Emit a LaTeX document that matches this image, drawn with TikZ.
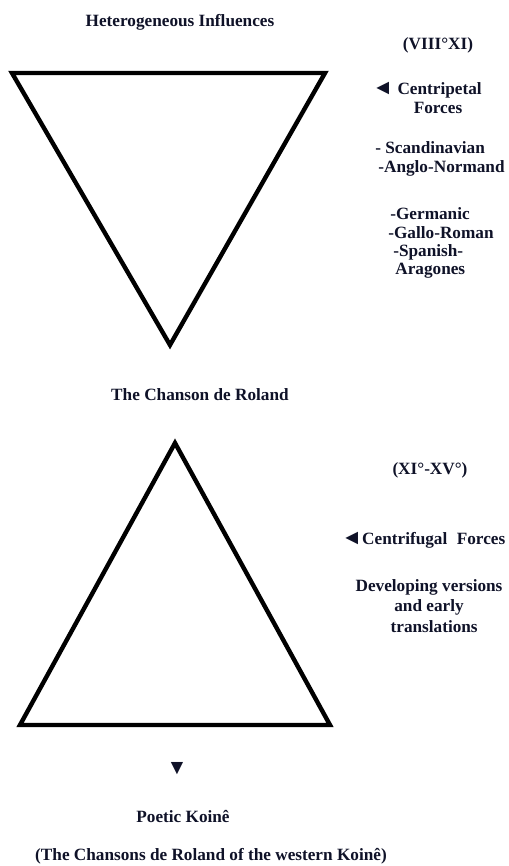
\documentclass[tikz,border=0pt]{standalone}
\usepackage{fontspec}
\setmainfont{Liberation Serif}
\usepackage{xcolor}
\usepackage{tikz}
\definecolor{inkblue}{RGB}{15,18,40}

\begin{document}
\begin{tikzpicture}[x=0.02cm, y=-0.02cm,
      font=\fontsize{9.8}{11.8}\selectfont\bfseries,
      txt/.style={text=inkblue, inner sep=0pt},
      lft/.style={txt, anchor=west},
      tri/.style={draw=black, line width=2.5pt, line join=miter}]
    \useasboundingbox (0,0) rectangle (508,866);
    \node[txt] (infl) at (180,22) {Heterogeneous Influences};
    \node[txt] (per1) at (438,45) {(VIII°XI)};
    \draw[tri] (12,73) -- (325,73) -- (170,345) -- cycle;
    \node[lft] (cpet) at (372,90) {{\large ◄} Centripetal};
    \node[txt] (forc) at (438,108) {Forces};
    \node[lft] (scan) at (375,148) {- Scandinavian};
    \node[lft] (angl) at (378,168) {-Anglo-Normand};
    \node[lft] (germ) at (390,214) {-Germanic};
    \node[lft] (gall) at (388,233) {-Gallo-Roman};
    \node[lft] (span) at (393,252) {-Spanish-};
    \node[lft] (arag) at (395,271) {Aragones};
    \node[txt] (chan) at (200,395) {The Chanson de Roland};
    \draw[tri] (175,443) -- (330,725) -- (20,725) -- cycle;
    \node[txt] (per2) at (430,470) {(XI°-XV°)};
    \node[lft] (cfug) at (341,540) {{\large ◄}Centrifugal\hspace{0.55em}Forces};
    \node[txt, align=center] (devl) at (429,606)
      {Developing versions\\and early\\\hspace{0.6em}translations};
    \node[txt] (down) at (177,769) {{\large ▼}};
    \node[txt] (koin) at (183,817) {Poetic Koinê};
    \node[txt] (west) at (211,856)
      {(The Chansons de Roland of the western Koinê)};
  \end{tikzpicture}
\end{document}
